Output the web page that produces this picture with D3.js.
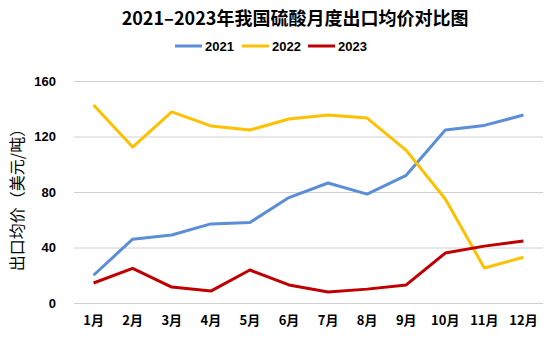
<!DOCTYPE html>
<html><head><meta charset="utf-8">
<script src="https://cdn.jsdelivr.net/npm/d3@7"></script>
<style>body{margin:0;background:#fff;}svg{display:block;font-family:"Liberation Sans","Noto Sans CJK SC",sans-serif;}</style>
</head><body>
<svg id="c" width="549" height="340"></svg>
<script>
const months = ["1月","2月","3月","4月","5月","6月","7月","8月","9月","10月","11月","12月"];
const seriesNames = ["2021","2022","2023"];
const colors = ["#5B8ED6","#FFC000","#C00000"];
const v2021 = [20,46,49,57,58,76,86.5,78.5,92,124.7,128,135.5];
const v2022 = [142.7,112.4,137.7,127.6,124.7,132.6,135.5,133.3,110,75,25.2,33];
const v2023 = [14.4,25,11.5,8.6,23.8,13,8,10,13,36,41,44.7];
const yTicks = [0,40,80,120,160];
const title = "2021–2023年我国硫酸月度出口均价对比图";
const yTitle = "出口均价（美元/吨）";

const svg = d3.select("#c");
const x = d3.scaleBand().domain(months).range([74,543]);
const y = d3.scaleLinear().domain([0,160]).range([303,81]);

svg.append("text").attr("x",295).attr("y",25).attr("text-anchor","middle")
  .attr("font-family","'Noto Sans CJK SC',sans-serif").attr("font-weight","bold").attr("font-size",18).text(title);

// grid
svg.append("g").selectAll("line").data(yTicks).join("line")
  .attr("x1",74).attr("x2",543).attr("y1",d=>y(d)+0.5).attr("y2",d=>y(d)+0.5)
  .attr("stroke","#d0d0d0").attr("stroke-width",1);

const ya = svg.append("g").attr("transform","translate(56,0)")
  .call(d3.axisLeft(y).tickValues(yTicks).tickSize(0).tickPadding(0));
ya.select(".domain").remove();
ya.selectAll("text").attr("font-size",13).attr("font-weight","bold").attr("font-family","'Liberation Sans',sans-serif").attr("fill","#000");

const xa = svg.append("g").attr("transform","translate(0,316)")
  .call(d3.axisBottom(x).tickSize(0).tickPadding(0));
xa.select(".domain").remove();
xa.selectAll("text").attr("font-size",13).attr("font-weight","bold").attr("dy","0.71em").attr("font-family","'Noto Sans CJK SC',sans-serif").attr("fill","#000");

svg.append("text").attr("transform","translate(23,196) rotate(-90)").attr("text-anchor","middle")
  .attr("font-family","'Noto Sans CJK SC',sans-serif").attr("font-size",16).text(yTitle);

const data = [v2021,v2022,v2023];
const line = d3.line().x((d,i)=>x(months[i])+x.bandwidth()/2).y(d=>y(d));
svg.append("g").selectAll("path").data(data).join("path")
  .attr("d",line).attr("fill","none").attr("stroke",(d,i)=>colors[i]).attr("stroke-width",3).attr("stroke-linejoin","round");

// legend
const lx = [175,242,308];
const lg = svg.append("g").selectAll("g").data(seriesNames).join("g").attr("transform",(d,i)=>`translate(${lx[i]},46)`);
lg.append("line").attr("x1",0).attr("x2",27).attr("stroke",(d,i)=>colors[i]).attr("stroke-width",3);
lg.append("text").attr("x",30).attr("dy","0.35em").attr("font-size",13).attr("font-weight","bold").text(d=>d);
</script>
</body></html>
